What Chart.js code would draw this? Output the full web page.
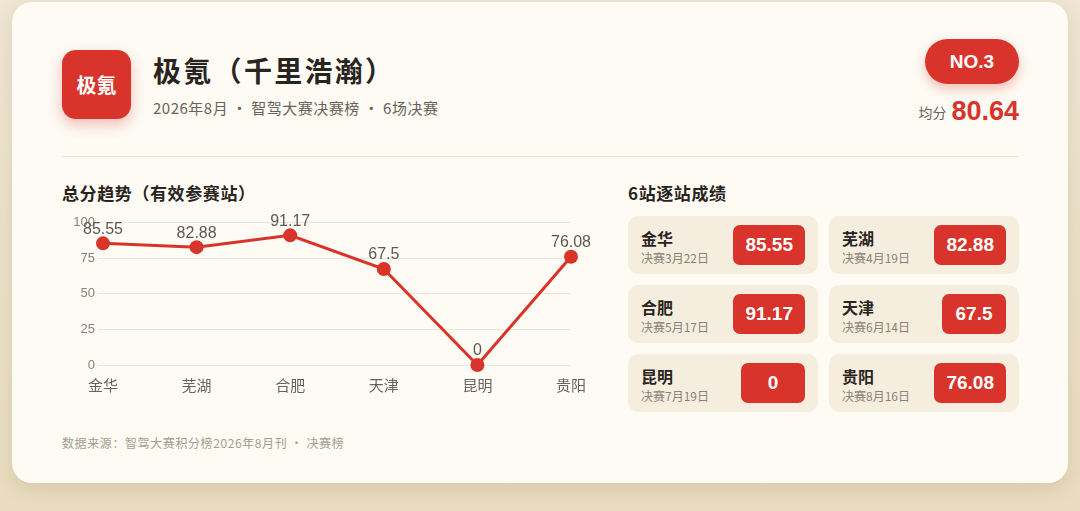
<!DOCTYPE html>
<html>
<head>
<meta charset="utf-8">
<title>极氪 决赛榜</title>
<script src="https://cdn.jsdelivr.net/npm/chart.js"></script>
<style>
  html, body { margin:0; padding:0; }
  body { width:1080px; height:511px; overflow:hidden; background:linear-gradient(180deg,#efe6d3 0%,#e9dcc0 100%); font-family:"Noto Sans CJK SC","Noto Sans",sans-serif; position:relative; }
  .card { position:absolute; left:12px; top:2px; width:1056px; height:481px; background:#fdfbf4; border-radius:20px; box-shadow:0 6px 18px rgba(140,110,60,0.18); }
  .logo { position:absolute; left:50px; top:48px; width:69px; height:69px; border-radius:14px; background:#d9342b; color:#fff; font-weight:700; font-size:20px; line-height:69px; text-align:center; box-shadow:0 6px 14px rgba(217,52,43,0.3); }
  .title { position:absolute; left:141px; top:48px; font-size:28px; font-weight:700; color:#2a2420; letter-spacing:2.3px; }
  .sub { position:absolute; left:141px; top:95px; font-size:15px; color:#6a625a; letter-spacing:0.5px; }
  .rank { position:absolute; right:49px; top:37px; width:94px; height:45px; border-radius:23px; background:#d9342b; color:#fff; font-family:"Liberation Sans",Arial,sans-serif; font-weight:700; font-size:19px; line-height:45px; text-align:center; box-shadow:0 5px 12px rgba(217,52,43,0.3); }
  .avg { position:absolute; right:49px; top:94px; color:#6a625a; font-size:14px; }
  .avg b { color:#d9342b; font-size:27px; font-family:"Liberation Sans",Arial,sans-serif; font-weight:700; margin-left:5px; vertical-align:-2px; }
  .hr { position:absolute; left:50px; right:49px; top:154px; height:1px; background:#ebe4d6; }
  .sec { position:absolute; top:178px; font-size:17px; font-weight:700; color:#2a2420; letter-spacing:0.6px; }
  .chartbox { position:absolute; left:50px; top:210px; width:535px; height:193px; }
  .grid { position:absolute; left:616px; top:214px; width:391px; }
  .item { position:absolute; width:190px; height:58px; background:#f5eedf; border-radius:10px; }
  .item .n { position:absolute; left:13px; top:10px; font-size:16px; font-weight:700; color:#2a2420; }
  .item .d { position:absolute; left:13px; top:33px; font-size:12px; color:#8a8276; }
  .item .s { position:absolute; right:13px; top:9px; height:40px; min-width:40px; padding:0 12px; border-radius:7px; background:#d9342b; color:#fff; font-family:"Liberation Sans",Arial,sans-serif; font-weight:700; font-size:19px; line-height:40px; text-align:center; }
  .foot { position:absolute; left:50px; top:432px; font-size:12px; color:#a59d90; letter-spacing:0.6px; }
</style>
</head>
<body>
<div class="card">
  <div class="logo">极氪</div>
  <div class="title">极氪（千里浩瀚）</div>
  <div class="sub">2026年8月 · 智驾大赛决赛榜 · 6场决赛</div>
  <div class="rank">NO.3</div>
  <div class="avg">均分<b id="avg"></b></div>
  <div class="hr"></div>
  <div class="sec" style="left:50px">总分趋势（有效参赛站）</div>
  <div class="sec" style="left:616px">6站逐站成绩</div>
  <div class="chartbox"><canvas id="trend"></canvas></div>
  <div class="grid" id="grid"></div>
  <div class="foot">数据来源：智驾大赛积分榜2026年8月刊 · 决赛榜</div>
</div>
<script>
const stations=['金华','芜湖','合肥','天津','昆明','贵阳'];
const dates=['决赛3月22日','决赛4月19日','决赛5月17日','决赛6月14日','决赛7月19日','决赛8月16日'];
const scores=[85.55,82.88,91.17,67.5,0,76.08];
const yTicks=[0,25,50,75,100];
const avgScore=80.64;

document.getElementById('avg').textContent=avgScore;

// score tiles, two columns
const grid=document.getElementById('grid');
stations.forEach((s,i)=>{
  const el=document.createElement('div');
  el.className='item';
  el.style.left=(i%2?201:0)+'px';
  el.style.top=(Math.floor(i/2)*69)+'px';
  el.innerHTML='<div class="n">'+s+'</div><div class="d">'+dates[i]+'</div><div class="s">'+scores[i]+'</div>';
  grid.appendChild(el);
});

// values above each point
const pointLabels={
  id:'pointLabels',
  afterDatasetsDraw(chart){
    const ctx=chart.ctx;
    const meta=chart.getDatasetMeta(0);
    ctx.save();
    ctx.font='500 16px "Liberation Sans", Arial, sans-serif';
    ctx.fillStyle='#5e5850';
    ctx.textAlign='center';
    ctx.textBaseline='bottom';
    meta.data.forEach((p,i)=>{ ctx.fillText(String(scores[i]),p.x,p.y-6); });
    ctx.restore();
  }
};

new Chart(document.getElementById('trend'),{
  type:'line',
  data:{labels:stations,datasets:[{
    data:scores,borderColor:'#d9342b',backgroundColor:'#d9342b',
    borderWidth:3,pointRadius:5.5,pointHoverRadius:5.5,tension:0,fill:false,clip:false
  }]},
  options:{
    responsive:true,maintainAspectRatio:false,animation:false,
    layout:{padding:{top:4,right:0,left:0,bottom:0}},
    plugins:{legend:{display:false},tooltip:{enabled:false}},
    scales:{
      x:{grid:{display:false,drawTicks:false},border:{display:false},
         ticks:{color:'#6a625a',padding:11,font:{size:15,family:'"Noto Sans CJK SC"'}}},
      y:{min:0,max:100,afterBuildTicks(a){a.ticks=yTicks.map(v=>({value:v}));},
         afterFit(a){a.width=41;},
         grid:{color:'#ece6da',tickLength:5},border:{display:false},
         ticks:{color:'#8a8276',padding:3,font:{size:13,family:'"Liberation Sans"'}}}
    }
  },
  plugins:[pointLabels]
});
</script>
</body>
</html>
